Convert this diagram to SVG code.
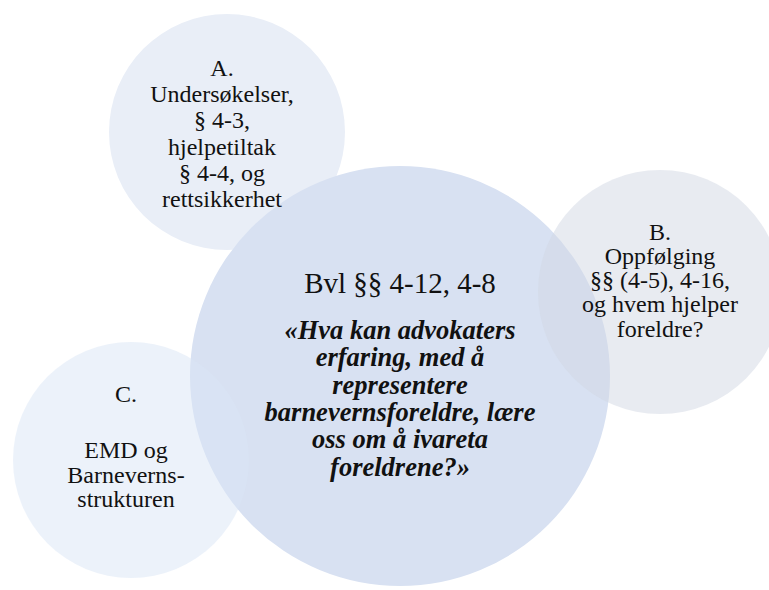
<svg xmlns="http://www.w3.org/2000/svg" width="769" height="590" viewBox="0 0 769 590">
<style>
.c{fill-opacity:0.5}
text{font-family:'Liberation Serif','Times New Roman',serif;fill:#111;text-anchor:middle}
.s{font-size:24px}
.h{font-size:29px}
.q{font-size:26.5px;font-weight:bold;font-style:italic}
</style>
<rect width="769" height="590" fill="#ffffff"/>
<g id="nodeA">
<circle cx="227" cy="132" r="118" fill="#e9eef7"/>
</g>
<g id="nodeMain">
<circle cx="400" cy="376" r="210" fill="#d8e1f2"/>
</g>
<g id="nodeC">
<circle class="c" cx="131" cy="460" r="118" fill="#d9e5f5"/>
</g>
<g id="nodeB">
<circle class="c" cx="660" cy="292" r="122" fill="#d1d7e3"/>
</g>
<g id="labels">
<text class="s" x="222"><tspan x="222" y="76">A.</tspan><tspan x="222" y="102">Undersøkelser,</tspan><tspan x="222" y="128">§ 4-3,</tspan><tspan x="222" y="155">hjelpetiltak</tspan><tspan x="222" y="181">§ 4-4, og</tspan><tspan x="222" y="207">rettsikkerhet</tspan></text>
<text class="s" x="660"><tspan x="660" y="240">B.</tspan><tspan x="660" y="264">Oppfølging</tspan><tspan x="660" y="288">§§ (4-5), 4-16,</tspan><tspan x="660" y="312">og hvem hjelper</tspan><tspan x="660" y="337">foreldre?</tspan></text>
<text class="s" x="126"><tspan x="126" y="402">C.</tspan><tspan x="126" y="458">EMD og</tspan><tspan x="126" y="483">Barneverns-</tspan><tspan x="126" y="507">strukturen</tspan></text>
<text class="h" x="400" y="293">Bvl §§ 4-12, 4-8</text>
<text class="q" x="400"><tspan x="400" y="339">«Hva kan advokaters</tspan><tspan x="400" y="366">erfaring, med å</tspan><tspan x="400" y="394">representere</tspan><tspan x="400" y="421">barnevernsforeldre, lære</tspan><tspan x="400" y="448">oss om å ivareta</tspan><tspan x="400" y="476">foreldrene?»</tspan></text>
</g>
</svg>
